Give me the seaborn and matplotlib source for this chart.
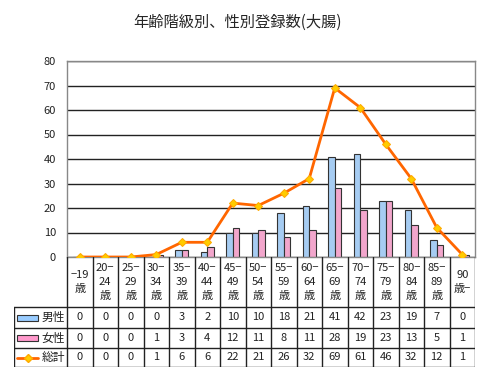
import numpy as np
import pandas as pd
import matplotlib
matplotlib.use('Agg')
import matplotlib.pyplot as plt
import seaborn as sns
from matplotlib.patches import Rectangle
from matplotlib.lines import Line2D

# data
age_labels = ['−19\n歳', '20−\n24\n歳', '25−\n29\n歳', '30−\n34\n歳', '35−\n39\n歳',
              '40−\n44\n歳', '45−\n49\n歳', '50−\n54\n歳', '55−\n59\n歳', '60−\n64\n歳',
              '65−\n69\n歳', '70−\n74\n歳', '75−\n79\n歳', '80−\n84\n歳', '85−\n89\n歳',
              '90\n歳−']
male = [0, 0, 0, 0, 3, 2, 10, 10, 18, 21, 41, 42, 23, 19, 7, 0]
female = [0, 0, 0, 1, 3, 4, 12, 11, 8, 11, 28, 19, 23, 13, 5, 1]
total = [0, 0, 0, 1, 6, 6, 22, 21, 26, 32, 69, 61, 46, 32, 12, 1]
series_names = ['男性', '女性', '総計']
title = '年齢階級別、性別登録数(大腸)'

male_color = '#99CCFF'
female_color = '#FF99CC'
line_color = '#FF6600'

sns.set_theme(style='white')
plt.rcParams['font.family'] = ['Noto Sans CJK JP', 'DejaVu Sans']

W, H = 480, 369
fig = plt.figure(figsize=(W / 100, H / 100), dpi=100)
fig.patch.set_facecolor('white')

# main plot area
ax = fig.add_axes([67 / W, 112 / H, 408 / W, 196 / H])
n = len(age_labels)
df = pd.DataFrame({
    'age': age_labels * 2,
    'count': male + female,
    'sex': [series_names[0]] * n + [series_names[1]] * n,
})
sns.barplot(data=df, x='age', y='count', hue='sex',
            palette={series_names[0]: male_color, series_names[1]: female_color},
            width=0.52, edgecolor='#333333', linewidth=0.8, legend=False, ax=ax)
sns.lineplot(x=np.arange(n), y=total, color=line_color, linewidth=2,
             marker='D', markersize=3.8, markerfacecolor='#FFCC00',
             markeredgecolor='#FFAA00', ax=ax, zorder=5)

ax.set_xlim(-0.5, n - 0.5)
ax.set_ylim(0, 80)
ax.set_yticks(range(0, 81, 10))
ax.set_xticks([])
ax.set_xlabel('')
ax.set_ylabel('')
ax.tick_params(axis='y', labelsize=8, length=0, pad=8, colors='#222222')
ax.yaxis.grid(True, color='#222222', linewidth=1)
ax.set_axisbelow(True)
for s in ax.spines.values():
    s.set_color('#888888')
    s.set_linewidth(1)

fig.text(238 / W, 1 - 22 / H, title, ha='center', va='center', fontsize=11)

# data table below
unit = 408 / n
label_w = 53 / unit
tax = fig.add_axes([14 / W, 2 / H, 461 / W, 110 / H])
x_left = -0.5 - label_w
tax.set_xlim(x_left, n - 0.5)
tax.set_ylim(110, 0)
tax.axis('off')

rows = [0, 50, 71, 91, 110]
lc = '#222222'
for k in range(n + 1):
    tax.plot([k - 0.5, k - 0.5], [0, rows[-1]], color=lc, lw=1)
tax.plot([x_left, x_left], [rows[1], rows[-1]], color=lc, lw=1)
for r in rows[1:]:
    tax.plot([x_left, n - 0.5], [r, r], color=lc, lw=1)

for i, lab in enumerate(age_labels):
    tax.text(i, 25, lab, ha='center', va='center', fontsize=8,
             linespacing=1.55, color='#222222')

for j, vals in enumerate([male, female, total]):
    yc = (rows[j + 1] + rows[j + 2]) / 2
    for i, v in enumerate(vals):
        tax.text(i, yc, str(v), ha='center', va='center', fontsize=8, color='#222222')
    tax.text(x_left + 1.55, yc, series_names[j], ha='center', va='center',
             fontsize=8.5, color='#222222')

# legend keys in the label column
kx0 = x_left + 3 / unit
kw = 21 / unit
for j, c in enumerate([male_color, female_color]):
    yc = (rows[j + 1] + rows[j + 2]) / 2
    tax.add_patch(Rectangle((kx0, yc - 3), kw, 6, facecolor=c,
                            edgecolor='#333333', lw=0.8))
yc = (rows[3] + rows[4]) / 2
tax.add_line(Line2D([kx0, kx0 + kw], [yc, yc], color=line_color, lw=2))
tax.plot([kx0 + kw / 2], [yc], marker='D', markersize=3.8,
         markerfacecolor='#FFCC00', markeredgecolor='#FFAA00')

fig.savefig('out.png', dpi=100)
